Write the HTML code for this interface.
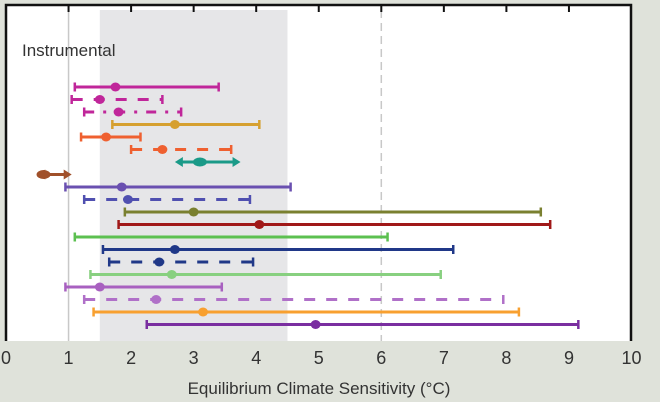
<!DOCTYPE html>
<html><head><meta charset="utf-8"><style>
body{margin:0;width:660px;height:402px;background:#dfe2da;overflow:hidden;font-family:"Liberation Sans",sans-serif}
svg{display:block}
</style></head><body>
<svg id="chart" width="660" height="402" xmlns="http://www.w3.org/2000/svg">
<rect x="0" y="0" width="660" height="402" fill="#dfe2da"/>
<rect x="6" y="5" width="625" height="336" fill="#ffffff"/>
<g id="layer"></g>
<text x="22" y="56" font-size="17" fill="#333">Instrumental</text>
<text x="319" y="394" font-size="17" fill="#333" text-anchor="middle">Equilibrium Climate Sensitivity (°C)</text>
</svg>
<script>
const ticks=[0,1,2,3,4,5,6,7,8,9,10];
const lows=[1.1,1.05,1.25,1.7,1.2,2.0,2.7,0.5,0.95,1.25,1.9,1.8,1.1,1.55,1.65,1.35,0.95,1.25,1.4,2.25];
const highs=[3.4,2.5,2.8,4.05,2.15,3.6,3.75,1.05,4.55,3.9,8.55,8.7,6.1,7.15,3.95,6.95,3.45,7.95,8.2,9.15];
const bests=[1.75,1.5,1.8,2.7,1.6,2.5,3.1,0.6,1.85,1.95,3.0,4.05,null,2.7,2.45,2.65,1.5,2.4,3.15,4.95];
const colors=["#c0269a","#c0269a","#c0269a","#d6a030","#ef6030","#ef6030","#1a9a88","#a0502a","#6a50b0","#5050b0","#7a8030","#a01818","#5cc050","#203888","#203888","#88d080","#a860c0","#b070c8","#f8a030","#7a2ea0"];
const styles=["solid","dash","dashdot","solid","solid","dash","arrow","arrow","solid","dash","solid","solid","solid","solid","dash","solid","solid","dash","solid","solid"];
const NS="http://www.w3.org/2000/svg";
const x=v=>6+v*62.55;
const y=i=>87+i*12.5;
const L=document.getElementById('layer');
function mk(t,a){const e=document.createElementNS(NS,t);for(const k in a)e.setAttribute(k,a[k]);L.appendChild(e);return e;}
let e=mk('rect',{x:x(1.5),y:10,width:x(4.5)-x(1.5),height:331,fill:'#e6e6e8'});


e=mk('line',{x1:x(1),x2:x(1),y1:10,y2:341,stroke:'#c8c8c8','stroke-width':1.5});


e=mk('line',{x1:x(6),x2:x(6),y1:10,y2:341,stroke:'#c8c8c8','stroke-width':1.5,'stroke-dasharray':'8,5'});


e=mk('path',{d:'M6,341V5H631V341',fill:'none',stroke:'#111','stroke-width':2.5});


ticks.forEach(t=>{
 if(t>0&&t<10){const k=mk('line',{x1:x(t),x2:x(t),y1:5,y2:12,stroke:'#111','stroke-width':2});
 
 }
 const tx=mk('text',{x:x(t),y:364,'font-size':18,fill:'#333','text-anchor':'middle'});tx.textContent=t;
 
 
});
lows.forEach((lo,i)=>{
 const c=colors[i],s=styles[i],yy=y(i);
 const g=document.createElementNS(NS,'g');L.appendChild(g);
 
 
 const a={x1:x(lo),x2:x(highs[i]),y1:yy,y2:yy,stroke:c,'stroke-width':3};
 if(s==='dash')a['stroke-dasharray']='11,11';
 if(s==='dashdot')a['stroke-dasharray']='10,9,3,9';
 if(s==='arrow'){a.x1=x(lo)+6;a.x2=x(highs[i])-6;}
 const ln=document.createElementNS(NS,'line');for(const k in a)ln.setAttribute(k,a[k]);g.appendChild(ln);
 if(s==='arrow'){
  [[x(lo),1],[x(highs[i]),-1]].forEach(([px,d])=>{const p=document.createElementNS(NS,'path');p.setAttribute('d',`M${px},${yy}l${d*8},-5v10z`);p.setAttribute('fill',c);g.appendChild(p);});
 }else{
  [x(lo),x(highs[i])].forEach(px=>{const p=document.createElementNS(NS,'line');p.setAttribute('x1',px);p.setAttribute('x2',px);p.setAttribute('y1',yy-4.5);p.setAttribute('y2',yy+4.5);p.setAttribute('stroke',c);p.setAttribute('stroke-width',2.5);g.appendChild(p);});
 }
 if(bests[i]!==null){const ci=document.createElementNS(NS,'ellipse');ci.setAttribute('cx',x(bests[i]));ci.setAttribute('cy',yy);ci.setAttribute('rx',s==='arrow'?7:5);ci.setAttribute('ry',4.5);ci.setAttribute('fill',c);g.appendChild(ci);}
});
</script>
</body></html>
